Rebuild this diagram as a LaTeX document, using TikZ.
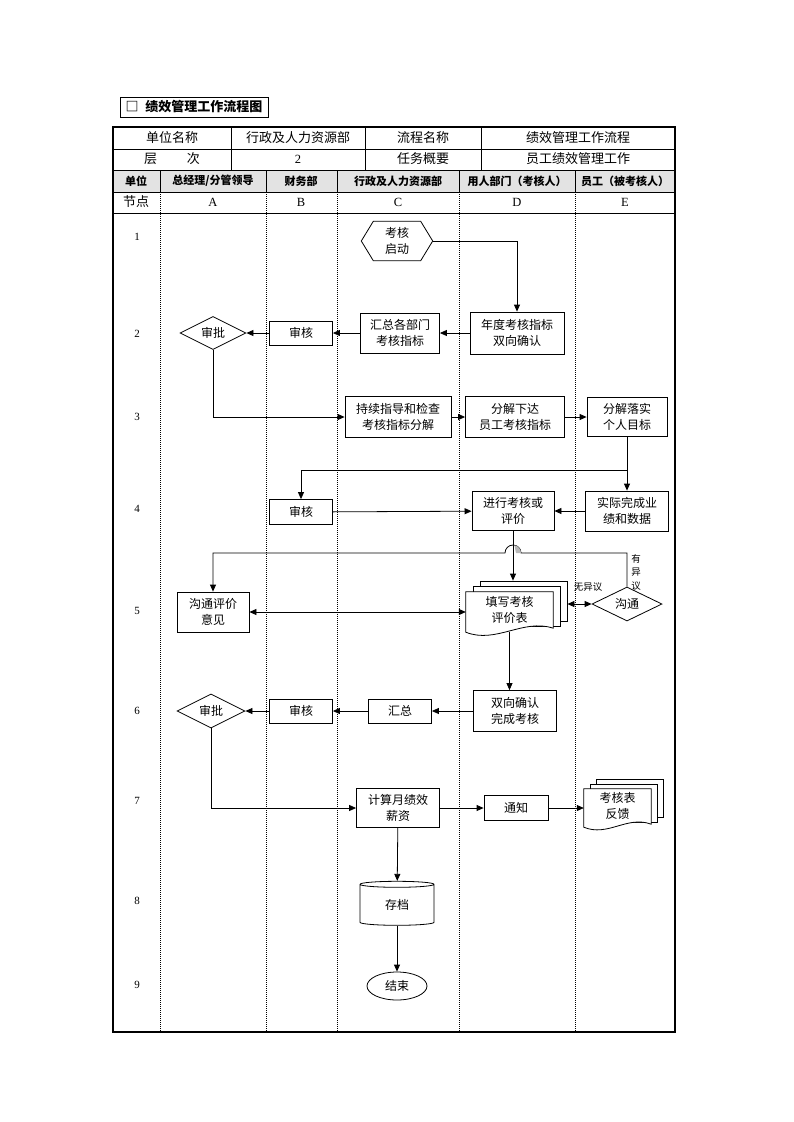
\documentclass[tikz,border=0pt]{standalone}
\usepackage{fontspec}
\setmainfont{Liberation Serif}
\newfontfamily\cjk{Noto Sans CJK SC}
\usetikzlibrary{positioning,shapes.geometric,arrows.meta,calc}

\begin{document}
\begin{tikzpicture}[
    x=1pt, y=-1pt,
    every node/.style={font=\cjk\fontsize{12}{16}\selectfont},
    box/.style={draw, line width=0.8pt, align=center, inner sep=0pt, fill=white},
    dec/.style={draw, diamond, aspect=2, line width=0.8pt, inner sep=0pt, fill=white},
    page/.style={draw, fill=white, line width=0.8pt, inner sep=0pt},
    cell/.style={font=\cjk\fontsize{13}{15}\selectfont},
    head/.style={font=\cjk\bfseries\fontsize{11}{13}\selectfont},
    num/.style={font=\fontsize{11}{13}\selectfont},
    lane/.style={dash pattern=on 1pt off 1pt, line width=0.7pt},
    arr/.style={-{Triangle[length=7pt,width=6pt]}, line width=0.8pt},
    darr/.style={{Triangle[length=7pt,width=6pt]}-{Triangle[length=7pt,width=6pt]}, line width=0.8pt},
]
    \useasboundingbox (0,0) rectangle (793,1122);

    % title
    \node[draw, line width=0.8pt, minimum width=148pt, minimum height=20pt, inner sep=0pt,
          font=\cjk\bfseries\fontsize{13}{15}\selectfont] (title) at (194,107) {□\hspace{7pt}绩效管理工作流程图};

    % table frame
    \fill[gray!22] (113,170) rectangle (675,192);
    \draw[line width=0.8pt] (113,149) -- (675,149);
    \draw[line width=0.8pt] (113,170) -- (675,170);
    \draw[line width=0.8pt] (113,192) -- (675,192);
    \draw[line width=0.8pt] (113,213) -- (675,213);
    \draw[line width=0.8pt] (231,127) -- (231,170);
    \draw[line width=0.8pt] (365,127) -- (365,170);
    \draw[line width=0.8pt] (481,127) -- (481,170);
    \draw[line width=0.8pt] (160,170) -- (160,192);
    \draw[line width=0.8pt] (266,170) -- (266,192);
    \draw[line width=0.8pt] (337,170) -- (337,192);
    \draw[line width=0.8pt] (459,170) -- (459,192);
    \draw[line width=0.8pt] (575,170) -- (575,192);
    \draw[lane] (160,192) -- (160,1032);
    \draw[lane] (266,192) -- (266,1032);
    \draw[lane] (337,192) -- (337,1032);
    \draw[lane] (459,192) -- (459,1032);
    \draw[lane] (575,192) -- (575,1032);
    \draw[line width=1.1pt] (113,127) rectangle (675,1032);

    \node[cell] (t11) at (172,138) {单位名称};
    \node[cell] (t12) at (298,138) {行政及人力资源部};
    \node[cell] (t13) at (423,138) {流程名称};
    \node[cell] (t14) at (578,138) {绩效管理工作流程};
    \node[cell] (t21) at (172,159) {层\hspace{30pt}次};
    \node[num, font=\fontsize{12.5}{14}\selectfont] (t22) at (298,159) {2};
    \node[cell] (t23) at (423,159) {任务概要};
    \node[cell] (t24) at (578,159) {员工绩效管理工作};

    \node[head] (h0) at (136,181) {单位};
    \node[head] (hA) at (213,181) {总经理/分管领导};
    \node[head] (hB) at (301,181) {财务部};
    \node[head] (hC) at (398,181) {行政及人力资源部};
    \node[head] (hD) at (517,181) {用人部门（考核人）};
    \node[head] (hE) at (625,181) {员工（被考核人）};

    \node[cell] (n0) at (136,202) {节点};
    \node[num, font=\fontsize{12.5}{14}\selectfont] (nA) at (213,202) {A};
    \node[num, font=\fontsize{12.5}{14}\selectfont] (nB) at (301,202) {B};
    \node[num, font=\fontsize{12.5}{14}\selectfont] (nC) at (398,202) {C};
    \node[num, font=\fontsize{12.5}{14}\selectfont] (nD) at (517,202) {D};
    \node[num, font=\fontsize{12.5}{14}\selectfont] (nE) at (625,202) {E};

    % step numbers
    \node[num] (r1) at (137,237) {1};
    \node[num] (r2) at (137,334) {2};
    \node[num] (r3) at (137,417) {3};
    \node[num] (r4) at (137,509) {4};
    \node[num] (r5) at (137,611) {5};
    \node[num] (r6) at (137,711) {6};
    \node[num] (r7) at (137,801) {7};
    \node[num] (r8) at (137,901) {8};
    \node[num] (r9) at (137,985) {9};

    % step 1
    \node[minimum width=71pt, minimum height=39pt, inner sep=0pt, align=center] (s1) at (397,241) {考核\\启动};
    \draw[line width=0.8pt] (s1.west) -- ([xshift=12pt]s1.north west) -- ([xshift=-12pt]s1.north east)
        -- (s1.east) -- ([xshift=-12pt]s1.south east) -- ([xshift=12pt]s1.south west) -- cycle;

    % step 2
    \node[dec, minimum width=66pt, minimum height=33pt] (a2) at (213,333) {审批};
    \node[box, minimum width=63pt, minimum height=24pt] (b2) at (301,333) {审核};
    \node[box, minimum width=79pt, minimum height=40pt] (c2) at (400,333) {汇总各部门\\考核指标};
    \node[box, minimum width=94pt, minimum height=42pt] (d2) at (517,333) {年度考核指标\\双向确认};

    % step 3
    \node[box, minimum width=106pt, minimum height=41pt] (c3) at (398,417) {持续指导和检查\\考核指标分解};
    \node[box, minimum width=99pt, minimum height=41pt] (d3) at (515,417) {分解下达\\员工考核指标};
    \node[box, minimum width=80pt, minimum height=39pt] (e3) at (627,417) {分解落实\\个人目标};

    % step 4
    \node[box, minimum width=63pt, minimum height=25pt] (b4) at (301,512) {审核};
    \node[box, minimum width=82pt, minimum height=39pt] (d4) at (513,511) {进行考核或\\评价};
    \node[box, minimum width=83pt, minimum height=40pt] (e4) at (627,511) {实际完成业\\绩和数据};
    \coordinate (sp) at (627,470);

    % step 5
    \node[box, minimum width=72pt, minimum height=40pt] (a5) at (213,612) {沟通评价\\意见};
    \node[page, minimum width=87pt, minimum height=40pt] (f5b) at (523.5,601) {};
    \node[page, minimum width=87pt, minimum height=40pt] (f5m) at (516.5,606.5) {};
    \node[minimum width=87pt, minimum height=40pt, inner sep=0pt] (f5) at (509.5,612) {};
    \draw[fill=white, line width=0.8pt] (f5.south west) -- (f5.north west) -- (f5.north east)
        -- ([yshift=4pt]f5.south east) .. controls ([xshift=-30pt,yshift=14pt]f5.south east)
        and ([xshift=30pt,yshift=-12pt]f5.south west) .. (f5.south west) -- cycle
        (f5.center) node[align=center, yshift=2pt] (f5t) {填写考核\\评价表};
    \node[dec, minimum width=70pt, minimum height=34pt] (e5) at (627,604) {沟通};
    \node[font=\cjk\fontsize{9.5}{11}\selectfont] (l1) at (588,587) {无异议};
    \node[font=\cjk\fontsize{9.5}{13.5}\selectfont, align=center] (l2) at (636,572) {有\\异\\议};
    \coordinate (hopr) at (521,553);

    % step 6
    \node[dec, minimum width=68pt, minimum height=34pt] (a6) at (211,711) {审批};
    \node[box, minimum width=63pt, minimum height=24pt] (b6) at (301,711) {审核};
    \node[box, minimum width=63pt, minimum height=24pt] (c6) at (400,711) {汇总};
    \node[box, minimum width=83pt, minimum height=41pt] (d6) at (515,711) {双向确认\\完成考核};

    % step 7
    \node[box, minimum width=83pt, minimum height=39pt] (c7) at (398,808) {计算月绩效\\薪资};
    \node[box, minimum width=64pt, minimum height=25pt] (d7) at (516,808) {通知};
    \node[page, minimum width=67pt, minimum height=38pt] (e7b) at (629.5,798) {};
    \node[page, minimum width=67pt, minimum height=38pt] (e7m) at (623.5,803) {};
    \node[minimum width=67pt, minimum height=38pt, inner sep=0pt] (e7) at (617.5,808) {};
    \draw[fill=white, line width=0.8pt] (e7.south west) -- (e7.north west) -- (e7.north east)
        -- ([yshift=3pt]e7.south east) .. controls ([xshift=-24pt,yshift=12pt]e7.south east)
        and ([xshift=24pt,yshift=-10pt]e7.south west) .. (e7.south west) -- cycle
        (e7.center) node[align=center, yshift=2pt] (e7t) {考核表\\反馈};

    % steps 8 and 9
    \node[draw, cylinder, shape border rotate=90, aspect=0.25, line width=0.8pt,
          minimum width=74pt, minimum height=44pt, inner sep=0pt] (k8) at (397,905) {存档};
    \node[draw, ellipse, line width=0.8pt, minimum width=60pt, minimum height=28pt, inner sep=0pt] (z9) at (397,986) {结束};

    % connectors
    \draw[arr] (s1.east) -| (d2.north);
    \draw[arr] (d2) -- (c2);
    \draw[arr] (c2) -- (b2);
    \draw[arr] (b2) -- (a2);
    \draw[arr] (a2.south) |- (c3.west);
    \draw[arr] (c3) -- (d3);
    \draw[arr] (d3) -- (e3);
    \draw[arr] (e3) -- (e4);
    \draw[arr] (sp) -| (b4.north);
    \draw[arr] (b4) -- (d4);
    \draw[arr] (e4) -- (d4);
    \draw[arr] (d4.south) -- (d4.south |- f5b.north);
    \draw[arr] (e5.north) |- (hopr) arc[start angle=0, end angle=180, radius=8pt] -| (a5.north);
    \fill[gray!55] (hopr) arc[start angle=0, end angle=80, radius=8pt] -- ([xshift=-5pt]hopr) -- cycle;
    \draw[darr] (a5.east) -- (a5.east -| f5.west);
    \draw[darr] (f5b.east |- e5.west) -- (e5.west);
    \draw[arr] (f5.south) -- (f5.south |- d6.north);
    \draw[arr] (d6) -- (c6);
    \draw[arr] (c6) -- (b6);
    \draw[arr] (b6) -- (a6);
    \draw[arr] (a6.south) |- (c7.west);
    \draw[arr] (c7) -- (d7);
    \draw[arr] (d7) -- (e7.west);
    \draw[arr] (c7) -- (k8);
    \draw[arr] (k8) -- (z9);
\end{tikzpicture}
\end{document}
